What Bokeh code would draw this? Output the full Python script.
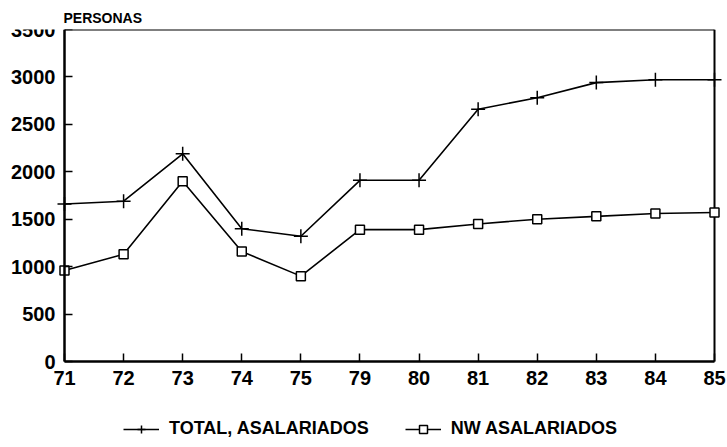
from bokeh.plotting import figure
from bokeh.models import Range1d, FixedTicker, Legend, LegendItem, ColumnDataSource
from bokeh.embed import file_html
from bokeh.resources import INLINE

years = ["71", "72", "73", "74", "75", "79", "80", "81", "82", "83", "84", "85"]
total_asalariados = [1660, 1690, 2190, 1400, 1320, 1910, 1910, 2660, 2780, 2940, 2970, 2970]
nw_asalariados = [960, 1130, 1900, 1160, 900, 1390, 1390, 1450, 1500, 1530, 1560, 1570]
y_ticks = [0, 500, 1000, 1500, 2000, 2500, 3000, 3500]

FONT = "Liberation Sans"
idx = list(range(len(years)))
src = ColumnDataSource(dict(x=idx, total=total_asalariados, nw=nw_asalariados))

y_top = y_ticks[-1]
y_pad = y_top * 86 / 332          # room under zero for labels and legend
x_last = len(years) - 1
ppu = 650 / x_last                # pixels per category step
x_range = Range1d(-64 / ppu, x_last + 13 / ppu)

p = figure(frame_width=727, frame_height=418, output_backend="svg", toolbar_location=None,
           x_range=x_range, y_range=Range1d(-y_pad, y_top),
           min_border_left=0, min_border_right=0, min_border_top=29, min_border_bottom=0)
p.title.text = "PERSONAS"
p.title.text_font = FONT
p.title.text_font_size = "14px"
p.title.text_font_style = "bold"
p.title.text_color = "black"
p.title.offset = 63
p.title.standoff = 8

p.grid.visible = False
p.outline_line_color = None
p.background_fill_color = "white"
p.border_fill_color = "white"

for ax in (p.xaxis[0], p.yaxis[0]):
    ax.axis_line_width = 2.5
    ax.axis_line_color = "black"
    ax.major_tick_in = 8
    ax.major_tick_out = 0
    ax.major_tick_line_width = 1.5
    ax.minor_tick_line_color = None
    ax.major_label_text_font = FONT
    ax.major_label_text_font_style = "bold"
    ax.major_label_text_font_size = "20px"
    ax.major_label_text_color = "black"

p.xaxis.ticker = FixedTicker(ticks=idx)
p.xaxis.major_label_overrides = {i: y for i, y in enumerate(years)}
p.xaxis.major_label_standoff = 9
p.xaxis.fixed_location = 0
p.xaxis.bounds = (0, x_last)
p.yaxis.ticker = FixedTicker(ticks=y_ticks)
p.yaxis.major_label_standoff = 9
p.yaxis.fixed_location = 0
p.yaxis.bounds = (0, y_top)

# top and right frame lines of the plot box
p.segment(x0=[0, x_last], y0=[y_top, 0], x1=[x_last, x_last], y1=[y_top, y_top],
          line_color="black", line_width=2)

l1 = p.line("x", "total", source=src, line_color="black", line_width=1.6)
m1 = p.scatter("x", "total", source=src, marker="cross", size=14, line_color="black", line_width=1.5)
l2 = p.line("x", "nw", source=src, line_color="black", line_width=1.6)
m2 = p.scatter("x", "nw", source=src, marker="square", size=9, line_color="black",
               fill_color="white", line_width=1.5)

legend = Legend(items=[LegendItem(label="TOTAL, ASALARIADOS", renderers=[l1, m1]),
                       LegendItem(label="NW ASALARIADOS", renderers=[l2, m2])],
                orientation="horizontal", location=(123, 8),
                label_text_font=FONT, label_text_font_style="bold",
                label_text_font_size="18px", label_text_color="black",
                glyph_width=36, spacing=36,
                border_line_color=None, background_fill_alpha=0,
                label_standoff=10, padding=0, margin=0)
p.add_layout(legend)

open("out.html", "w").write(file_html(p, INLINE))
